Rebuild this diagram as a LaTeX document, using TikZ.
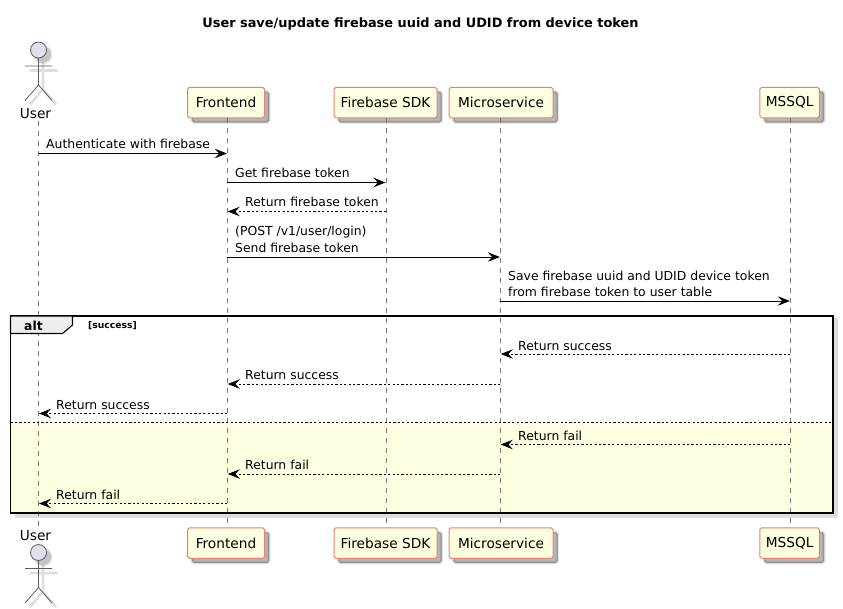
\documentclass[tikz,border=0pt]{standalone}
\usepackage{fontspec}
\setmainfont{DejaVu Sans}
\usetikzlibrary{arrows.meta}
\definecolor{partfill}{HTML}{FEFEE0}
\definecolor{partline}{HTML}{EE7F72}
\definecolor{actorfill}{HTML}{DFDFEE}
\definecolor{lifegray}{HTML}{777777}
\definecolor{figgray}{HTML}{5E5E5E}
\definecolor{altfill}{HTML}{EEEEEE}
\newcommand{\mfont}{\fontsize{12.4}{14}\selectfont}
\tikzset{
  softshadow/.style={
    preaction={draw=black,fill=black,opacity=.07,line width=3.4pt,transform canvas={shift={(4.5pt,-4.5pt)}}},
    preaction={draw=black,fill=black,opacity=.10,line width=1.8pt,transform canvas={shift={(4.5pt,-4.5pt)}}},
    preaction={draw=black,fill=black,opacity=.14,line width=.2pt,transform canvas={shift={(4.5pt,-4.5pt)}}}},
  part/.style={draw=partline,fill=partfill,line width=1pt,rounded corners=1.8pt,softshadow,
    minimum height=30.5pt,inner sep=0pt,text=black,font=\fontsize{13.7}{15}\selectfont},
  lifeline/.style={draw=lifegray,line width=.8pt,dash pattern=on 5pt off 5pt},
  msg/.style={draw=black,line width=.85pt,-{Stealth[length=12pt,width=9.5pt,inset=4.4pt]},shorten >=.5pt},
  ret/.style={msg,line width=.7pt,dash pattern=on 2.2pt off 2.2pt},
  msglabel/.style={anchor=base west,inner sep=0pt,font=\mfont,text=black,align=left},
  actorlabel/.style={inner sep=0pt,font=\fontsize{13.7}{15}\selectfont,text=black},
  figure/.style={draw=figgray,line width=.8pt},
  figshadow/.style={draw=black,opacity=.13,line width=2.6pt},
  framebox/.style={draw=black,line width=1.4pt}
}
\newcommand{\stick}[2]{% x, head centre y
  \begin{scope}[shift={(#1,#2)}]
    \fill[black,opacity=.10] (4.5,4.5) circle (9.5);
    \fill[black,opacity=.14] (4.5,4.5) circle (8);
    \draw[figshadow] (4.5,12) -- (4.5,39) (-9,20.5) -- (19,20.5) (4.5,39) -- (-8.5,54.5) (4.5,39) -- (17.5,54.5);
    \draw[figure,fill=actorfill] (0,0) circle (8);
    \draw[figure] (0,8) -- (0,35) (-13.5,16) -- (13.5,16) (0,35) -- (-13.5,50.5) (0,35) -- (13.5,50.5);
  \end{scope}}
\begin{document}
\begin{tikzpicture}[x=1pt,y=-1pt]
\useasboundingbox (0,0) rectangle (843,608);
\fill[white] (0,0) rectangle (843,608);

\node[inner sep=0pt,font=\bfseries\fontsize{12.9}{15}\selectfont] (title) at (420.5,24) {User save/update firebase uuid and UDID from device token};

% frame background
\fill[black,opacity=.13] (15,318) rectangle (838,518);
\fill[white] (10.5,316) rectangle (833,422);
\fill[partfill] (10.5,422) rectangle (833,513);

% participants
\coordinate (u) at (38.5,121);
\node[part,minimum width=77pt]  (fe) at (226,102.5) {Frontend};
\node[part,minimum width=103pt] (fb) at (385.5,102.5) {Firebase SDK};
\node[part,minimum width=104pt] (ms) at (501,102.5) {Microservice};
\node[part,minimum width=59.5pt] (db) at (789.7,102.5) {MSSQL};
\node[part,minimum width=77pt]  (fe2) at (226,543) {Frontend};
\node[part,minimum width=103pt] (fb2) at (385.5,543) {Firebase SDK};
\node[part,minimum width=104pt] (ms2) at (501,543) {Microservice};
\node[part,minimum width=59.5pt] (db2) at (789.7,543) {MSSQL};
\node[actorlabel] (ulabel) at (35.5,114) {User};
\node[actorlabel] (ulabel2) at (35.5,536) {User};
\stick{38.5}{50}
\stick{38.5}{552.5}

% lifelines
\coordinate (ub) at (38.5,527);
\coordinate (fet) at (227.3,118); \coordinate (feb) at (227.3,527.5);
\coordinate (fbt) at (386,118);   \coordinate (fbb) at (386,527.5);
\coordinate (mst) at (500.3,118); \coordinate (msb) at (500.3,527.5);
\coordinate (dbt) at (790.3,118); \coordinate (dbb) at (790.3,527.5);
\draw[lifeline] (u) -- (ub);
\draw[lifeline] (fet) -- (feb);
\draw[lifeline] (fbt) -- (fbb);
\draw[lifeline] (mst) -- (msb);
\draw[lifeline] (dbt) -- (dbb);

% frame
\draw[framebox] (10.5,316) rectangle (833,513);
\draw[black,line width=.8pt,dash pattern=on 2.2pt off 2.2pt] (10.5,422) -- (833,422);
\draw[framebox,line width=1.1pt,fill=altfill] (10.5,316) -- (72.5,316) -- (72.5,325) -- (62.5,333.5) -- (10.5,333.5) -- cycle;
\node[inner sep=0pt,font=\bfseries\fontsize{12.4}{14}\selectfont] (alt) at (33.5,326) {alt};
\node[inner sep=0pt,font=\bfseries\fontsize{9.2}{11}\selectfont] (cond) at (112.5,325.5) {[success]};

% messages
\draw[msg] (u |- 0,153.5) -- (fet |- 0,153.5);
\node[msglabel] at (46,148.5) {Authenticate with firebase};
\draw[msg] (fet |- 0,182.5) -- (fbt |- 0,182.5);
\node[msglabel] at (235,177.5) {Get firebase token};
\draw[ret] (fbt |- 0,211.5) -- (fet |- 0,211.5);
\node[msglabel] at (245,206.5) {Return firebase token};
\draw[msg] (fet |- 0,257) -- (mst |- 0,257);
\node[msglabel] at (235,235) {(POST /v1/user/login)};
\node[msglabel] at (235,252) {Send firebase token};
\draw[msg] (mst |- 0,301) -- (dbt |- 0,301);
\node[msglabel] at (508,280) {Save firebase uuid and UDID device token};
\node[msglabel] at (508,296) {from firebase token to user table};
\draw[ret] (dbt |- 0,354) -- (mst |- 0,354);
\node[msglabel] at (518,350) {Return success};
\draw[ret] (mst |- 0,384) -- (fet |- 0,384);
\node[msglabel] at (245,379) {Return success};
\draw[ret] (fet |- 0,413.5) -- (u |- 0,413.5);
\node[msglabel] at (56,409) {Return success};
\draw[ret] (dbt |- 0,444.5) -- (mst |- 0,444.5);
\node[msglabel] at (518,440) {Return fail};
\draw[ret] (mst |- 0,474) -- (fet |- 0,474);
\node[msglabel] at (245,469) {Return fail};
\draw[ret] (fet |- 0,503.5) -- (u |- 0,503.5);
\node[msglabel] at (56,499) {Return fail};
\end{tikzpicture}
\end{document}
